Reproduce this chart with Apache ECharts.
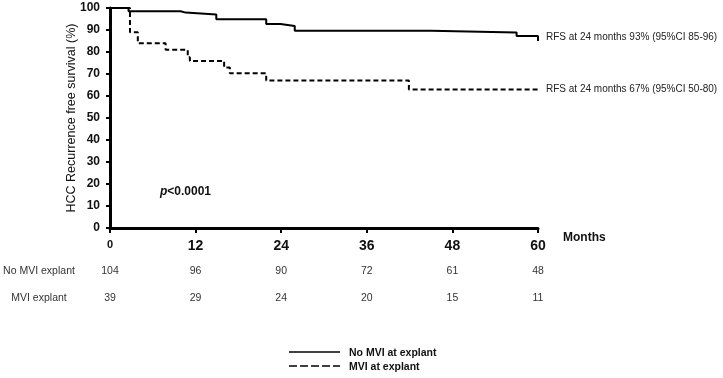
<!DOCTYPE html>
<html>
<head>
<meta charset="utf-8">
<script src="https://cdn.jsdelivr.net/npm/echarts@6/dist/echarts.min.js"></script>
<style>
  html, body { margin: 0; padding: 0; background: #fff; }
  #chart { width: 723px; height: 378px; }
</style>
</head>
<body>
<div id="chart"></div>
<script>
// Kaplan-Meier steps
const noMviTime = [0, 2.6, 9.9, 10.6, 14.9, 21.9, 23.9, 25.9, 45, 57, 60];
const noMviSurv = [100, 98.5, 97.9, 97, 94.9, 92.7, 91.8, 89.7, 88.9, 87.3, 85];
const mviTime = [0, 2.8, 3.9, 7.8, 10.9, 11.2, 16, 16.8, 21.9, 41.9, 60];
const mviSurv = [100, 89, 84, 81, 77.6, 75.9, 72.9, 70.3, 67, 63, 63];

// numbers at risk
const riskMonths = [0, 12, 24, 36, 48, 60];
const noMviRisk = [104, 96, 90, 72, 61, 48];
const mviRisk = [39, 29, 24, 20, 15, 11];

const noMviNote = "RFS at 24 months 93% (95%CI 85-96)";
const mviNote = "RFS at 24 months 67% (95%CI 50-80)";

const font = "Liberation Sans, Arial, sans-serif";
const chart = echarts.init(document.getElementById("chart"));

const toPairs = (t, s) => t.map((x, i) => [x, s[i]]);

const option = {
  animation: false,
  grid: { left: 110, right: 185, top: 8, bottom: 150 },
  xAxis: {
    type: "value",
    min: 0,
    max: 60,
    interval: 12,
    axisLine: { lineStyle: { color: "#000", width: 3 } },
    axisTick: { inside: false, length: 5, lineStyle: { color: "#000", width: 2 } },
    axisLabel: {
      margin: 11,
      fontFamily: font,
      fontWeight: "bold",
      fontSize: 14,
      color: "#111",
      formatter: v => (v === 0 ? "{s|0}" : String(v)),
      rich: { s: { fontFamily: font, fontWeight: "bold", fontSize: 11, color: "#111", padding: [0, 0, 6, 0] } }
    },
    splitLine: { show: false }
  },
  yAxis: {
    type: "value",
    min: 0,
    max: 100,
    interval: 10,
    axisLine: { show: true, lineStyle: { color: "#000", width: 3 } },
    axisTick: { show: true, length: 4, lineStyle: { color: "#000", width: 2 } },
    axisLabel: { margin: 10, fontFamily: font, fontWeight: "bold", fontSize: 12, color: "#111" },
    splitLine: { show: false }
  },
  series: [
    {
      name: "No MVI at explant",
      type: "line",
      step: "end",
      symbol: "none",
      data: toPairs(noMviTime, noMviSurv),
      lineStyle: { color: "#000", width: 2, type: "solid" }
    },
    {
      name: "MVI at explant",
      type: "line",
      step: "end",
      symbol: "none",
      data: toPairs(mviTime, mviSurv),
      lineStyle: { color: "#000", width: 2, type: [5, 3] }
    }
  ]
};
chart.setOption(option);

// text placed through the axes' own scales
const px = (x, y) => chart.convertToPixel({ gridIndex: 0 }, [x, y]);
const graphics = [];
const txt = (x, y, text, extra) =>
  graphics.push({
    type: "text",
    x, y,
    style: Object.assign({ text, fontFamily: font, fontSize: 11, fill: "#222" }, extra)
  });

// y axis title, rotated
const yTop = px(0, 100), yBottom = px(0, 0);
graphics.push({
  type: "text",
  x: 72,
  y: (yTop[1] + yBottom[1]) / 2,
  rotation: Math.PI / 2,
  style: {
    text: "HCC Recurrence free survival (%)",
    align: "center",
    verticalAlign: "middle",
    fontFamily: font,
    fontSize: 12.5,
    fill: "#111"
  }
});

const p1 = px(60, 86.7);
txt(p1[0] + 8, p1[1], noMviNote, { verticalAlign: "middle", fontSize: 10 });
const p2 = px(60, 63);
txt(p2[0] + 8, p2[1], mviNote, { verticalAlign: "middle", fontSize: 10 });

// x axis name
const pm = px(60, 0);
txt(pm[0] + 25, pm[1] + 10, "Months", { verticalAlign: "middle", fontWeight: "bold", fontSize: 12, fill: "#111" });

const pv = px(7, 16.5);
graphics.push({
  type: "text",
  x: pv[0], y: pv[1],
  style: {
    text: "{i|p}{b|<0.0001}",
    verticalAlign: "middle",
    rich: {
      i: { fontFamily: font, fontStyle: "italic", fontWeight: "bold", fontSize: 12, fill: "#111" },
      b: { fontFamily: font, fontWeight: "bold", fontSize: 12, fill: "#111" }
    }
  }
});

// numbers-at-risk table
const rowY = [271, 298];
const cell = { align: "center", verticalAlign: "middle", fontSize: 10.5, fill: "#333" };
txt(39, rowY[0], "No MVI explant", cell);
txt(39, rowY[1], "MVI explant", cell);
riskMonths.forEach((m, i) => {
  const x = px(m, 0)[0];
  txt(x, rowY[0], String(noMviRisk[i]), cell);
  txt(x, rowY[1], String(mviRisk[i]), cell);
});

// legend at bottom
graphics.push({ type: "line", shape: { x1: 289, y1: 352, x2: 340, y2: 352 }, style: { stroke: "#000", lineWidth: 1.5 } });
graphics.push({ type: "line", shape: { x1: 289, y1: 366, x2: 340, y2: 366 }, style: { stroke: "#000", lineWidth: 1.5, lineDash: [8, 3] } });
txt(349, 353, option.series[0].name, { verticalAlign: "middle", fontWeight: "bold", fontSize: 10.5, fill: "#111" });
txt(349, 367, option.series[1].name, { verticalAlign: "middle", fontWeight: "bold", fontSize: 10.5, fill: "#111" });

chart.setOption({ graphic: graphics });
</script>
</body>
</html>
